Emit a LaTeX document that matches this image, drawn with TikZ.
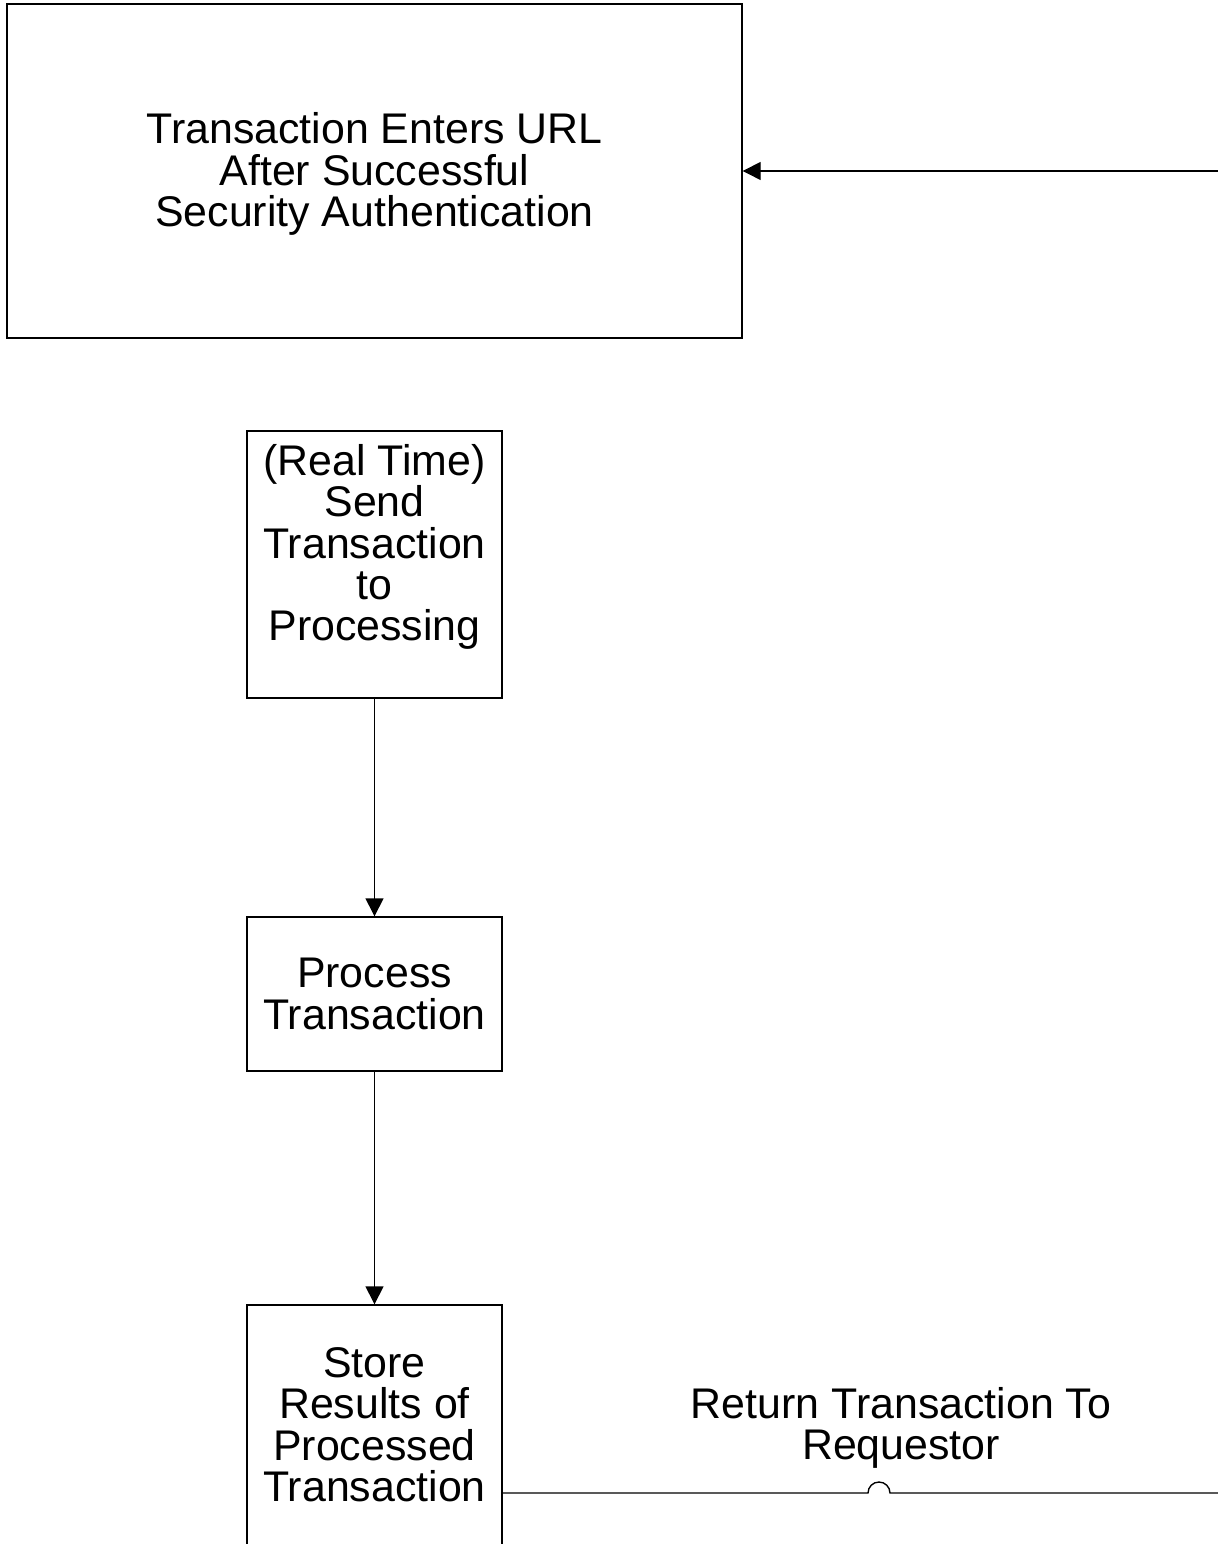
\documentclass[tikz,border=0pt]{standalone}
\usepackage{fontspec}
\setmainfont{Liberation Sans}
\usetikzlibrary{arrows.meta}

\begin{document}
\begin{tikzpicture}
        [x=0.1mm,y=-0.1mm,
         every node/.style={font=\fontsize{12.2}{11.7}\selectfont,align=center},
         box/.style={draw,line width=0.14mm,inner sep=0pt},
         flow/.style={line width=0.14mm,-{Triangle[length=1.8mm,width=1.8mm]}}]
      \clip (0,0) rectangle (1218,1544);
      \node[box,minimum width=73.5mm,minimum height=33.4mm,text depth=0.3mm] (enter) at (374.5,171) {Transaction Enters URL\\After Successful\\Security Authentication};
      \node[box,minimum width=25.5mm,minimum height=26.7mm,text depth=4.4mm] (send) at (374.5,564.5) {(Real Time)\\Send\\Transaction\\to\\Processing};
      \node[box,minimum width=25.5mm,minimum height=15.4mm] (process) at (374.5,994) {Process\\Transaction};
      \node[box,minimum width=25.5mm,minimum height=26.7mm,text depth=2.8mm] (store) at (374.5,1438.5) {Store\\Results of\\Processed\\Transaction};
      \node (retlabel) at (901,1428) {Return Transaction To\\Requestor};
      \coordinate (req) at (1230,171);
      \coordinate (hop) at (868,1493);
      \coordinate (back) at (1230,1493);
      \draw [flow] (req) -- (enter.east |- req);
      \draw [flow] (send) -- (process);
      \draw [flow] (process) -- (store);
      \draw [line width=0.14mm] (store.east |- hop) -- (hop) arc[start angle=180,end angle=0,radius=1.1mm] -- (back);
\end{tikzpicture}
\end{document}
